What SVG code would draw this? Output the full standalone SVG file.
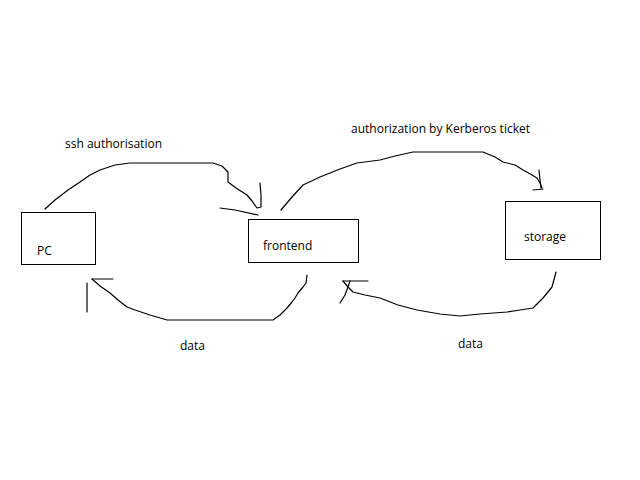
<svg xmlns="http://www.w3.org/2000/svg" width="640" height="480" viewBox="0 0 640 480">
<style>
.box{fill:#fff;stroke:#000;stroke-width:1}
.c{fill:none;stroke:#000;stroke-width:1.2;stroke-linejoin:round;stroke-linecap:round}
text{font-family:"Open Sans","Noto Sans",sans-serif;font-size:12px;fill:#000}
</style>
<rect width="640" height="480" fill="#fff"/>
<g id="node-pc"><rect class="box" x="21.5" y="212.5" width="74" height="52"/><text x="37" y="255">PC</text></g>
<g id="node-frontend"><rect class="box" x="248.5" y="219.5" width="110" height="43"/><text x="263" y="250">frontend</text></g>
<g id="node-storage"><rect class="box" x="505.5" y="201.5" width="95" height="58"/><text x="524" y="241">storage</text></g>
<g id="connectors">
<polyline class="c" points="45,209 55,200 68,190 80,182 90,175 100,170 115,165 130,163 213,163 222,166 228,172 228,182 236,188 247,195 252,201 257,208 261,207 261,195 260,183"/>
<polyline class="c" points="220,208 235,210 258,215"/>
<polyline class="c" points="281,210 292,197 303,185 320,177 340,169 357,163 380,160 395,156 413,152 483,152 495,157 503,162 515,165 523,170 532,175 537,178 540,183 542,188"/>
<polyline class="c" points="539,170 540,180 541,188"/>
<polyline class="c" points="533,190 543,189"/>
<polyline class="c" points="556,272 552,287 543,298 533,308 520,310 507,312 480,314 460,316 440,314 417,310 398,305 380,298 365,295 353,292 348,287 343,281"/>
<polyline class="c" points="343,281 368,281"/>
<polyline class="c" points="340,303 345,295 348,287 350,281"/>
<polyline class="c" points="307,275 306,283 303,287 298,293 295,298 292,302 287,308 280,315 273,320 167,320 150,315 135,310 127,307 118,300 110,293 100,286 92,279"/>
<polyline class="c" points="92,279 113,279"/>
<polyline class="c" points="87,283 87,312"/>
</g>
<text x="65" y="148">ssh authorisation</text>
<text x="351" y="133">authorization by Kerberos ticket</text>
<text x="180" y="350">data</text>
<text x="458" y="348">data</text>
</svg>
